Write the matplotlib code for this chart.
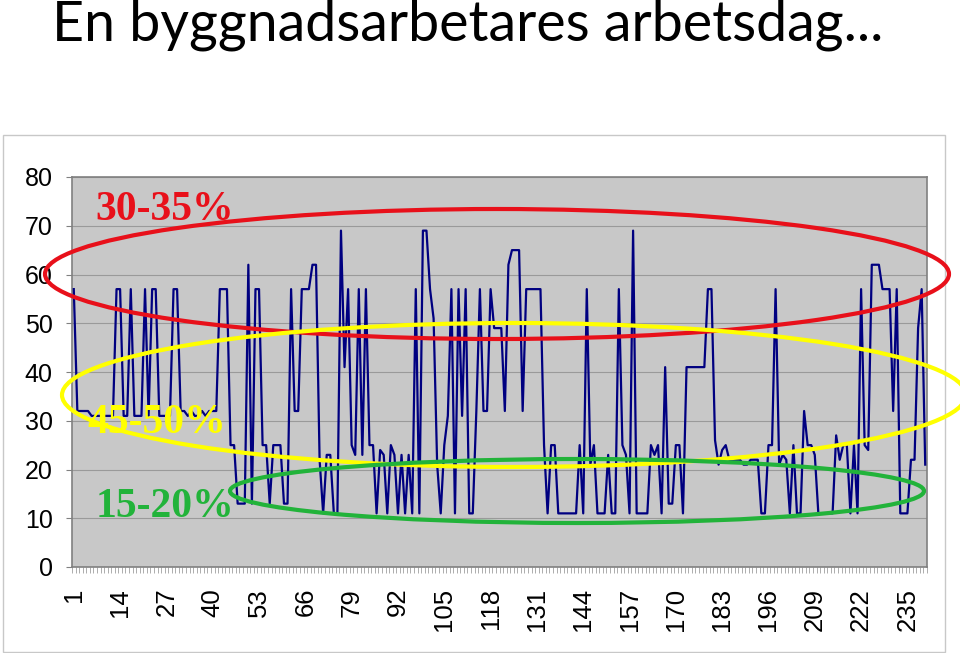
import numpy as np
import matplotlib
matplotlib.use("Agg")
import matplotlib.pyplot as plt
from matplotlib.patches import Ellipse, Rectangle

plt.rcParams['font.family'] = ['Liberation Sans', 'DejaVu Sans']

# --- data: one value per observation (240 in total) ---
values = [
    57, 32, 32, 32, 32, 31, 31, 31, 31, 31,
    31, 31, 57, 57, 31, 31, 57, 31, 31, 31,
    57, 31, 57, 57, 31, 31, 31, 31, 57, 57,
    32, 32, 31, 32, 31, 31, 32, 31, 32, 32,
    32, 57, 57, 57, 25, 25, 13, 13, 13, 62,
    13, 57, 57, 25, 25, 13, 25, 25, 25, 13,
    13, 57, 32, 32, 57, 57, 57, 62, 62, 22,
    11, 23, 23, 11, 11, 69, 41, 57, 25, 23,
    57, 23, 57, 25, 25, 11, 24, 23, 11, 25,
    23, 11, 23, 11, 23, 11, 57, 11, 69, 69,
    57, 51, 21, 11, 25, 31, 57, 11, 57, 31,
    57, 11, 11, 32, 57, 32, 32, 57, 49, 49,
    49, 32, 62, 65, 65, 65, 32, 57, 57, 57,
    57, 57, 25, 11, 25, 25, 11, 11, 11, 11,
    11, 11, 25, 11, 57, 21, 25, 11, 11, 11,
    23, 11, 11, 57, 25, 23, 11, 69, 11, 11,
    11, 11, 25, 23, 25, 11, 41, 13, 13, 25,
    25, 11, 41, 41, 41, 41, 41, 41, 57, 57,
    26, 21, 24, 25, 22, 22, 22, 22, 21, 21,
    22, 22, 22, 11, 11, 25, 25, 57, 21, 23,
    22, 11, 25, 11, 11, 32, 25, 25, 23, 11,
    11, 11, 11, 11, 27, 22, 25, 25, 11, 25,
    11, 57, 25, 24, 62, 62, 62, 57, 57, 57,
    32, 57, 11, 11, 11, 22, 22, 49, 57, 21,
]
x = np.arange(1, len(values) + 1)
xlabels = list(range(1, 241, 13))
yticks = list(range(0, 81, 10))

title = "En byggnadsarbetares arbetsdag..."
band_labels = ["30-35%", "45-50%", "15-20%"]
band_colors = ["#e8101a", "#ffff00", "#22b33a"]

W, H = 960, 653
fig = plt.figure(figsize=(9.6, 6.53), dpi=100)

# outer chart frame
fig.add_artist(Rectangle((3 / W, 1 - 652 / H), 942 / W, 517 / H, transform=fig.transFigure,
                         fill=False, ec="#c8c8c8", lw=1))

ax = fig.add_axes([72 / W, 1 - 567 / H, 855 / W, 390 / H])
ax.set_facecolor("#c8c8c8")
ax.plot(x, values, color="#000080", lw=1.6, zorder=3)
ax.set_xlim(0.5, len(values) + 0.5)
ax.set_ylim(0, 80)
ax.set_yticks(yticks)
ax.set_xticks(xlabels)
ax.set_xticklabels([str(v) for v in xlabels], rotation=90)
ax.set_xticks(np.arange(0.5, len(values) + 1, 1), minor=True)
ax.grid(axis="y", color="#9a9a9a", lw=0.8)
ax.set_axisbelow(True)
ax.tick_params(axis="y", length=4, color="#808080", labelsize=18, pad=10)
ax.tick_params(axis="x", which="major", length=0, labelsize=18.5, pad=15)
ax.tick_params(axis="x", which="minor", length=4, color="#a0a0a0", width=0.6)
for s in ax.spines.values():
    s.set_color("#808080")
    s.set_linewidth(1.2)

# ellipses (figure pixel geometry)
ellipses = [
    (497, 274, 452, 65, band_colors[0]),
    (514, 395, 452, 72, band_colors[1]),
    (577, 491, 347, 32, band_colors[2]),
]
for cx, cy, a, b, c in ellipses:
    fig.add_artist(Ellipse((cx / W, 1 - cy / H), 2 * a / W, 2 * b / H,
                           transform=fig.transFigure, fill=False, ec=c, lw=3, zorder=5))

text_pos = [(95, 210), (87, 423), (96, 507)]
for (tx, ty), lab, c in zip(text_pos, band_labels, band_colors):
    fig.text(tx / W, 1 - ty / H, lab, color=c, fontsize=30, fontweight="bold",
             ha="left", va="center",
             family=["Liberation Serif", "DejaVu Serif"], zorder=6)

fig.text(52 / W, 1 - 25 / H, title, fontsize=40, ha="left", va="center",
         family=["Lato", "Liberation Sans"])

fig.savefig("out.png", dpi=100)
